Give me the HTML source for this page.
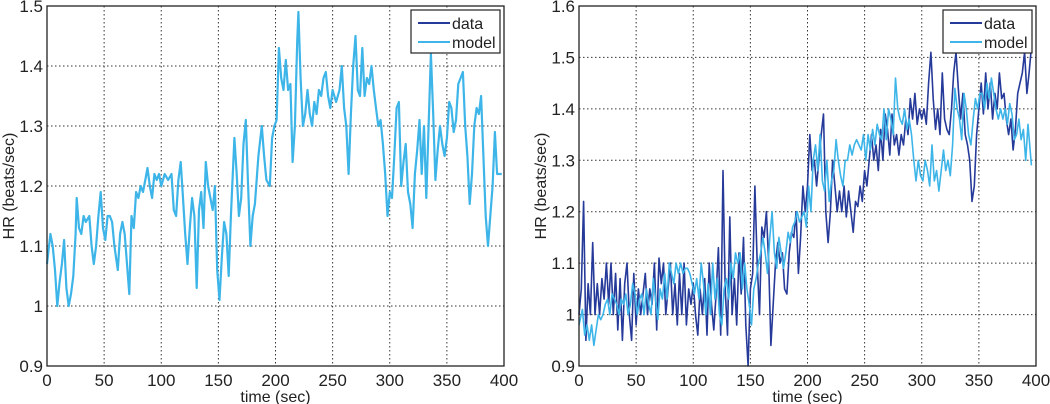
<!DOCTYPE html>
<html><head><meta charset="utf-8"><style>
body{margin:0;background:#fff;width:1050px;height:404px;overflow:hidden}
svg{display:block}
text{font-family:"Liberation Sans",sans-serif;fill:#222}
</style></head><body>
<svg id="chart" width="1050" height="404"></svg>
<script>
const leftModelT=[0,3,5,7,9,11,13,15,17,19,21,23,25,26,28,30,32,34,37,39,41,43,45,47,49,51,53,55,57,59,62,64,66,68,70,72,74,76,78,80,82,84,86,88,90,92,94,96,98,100,103,106,109,111,113,115,117,119,121,123,125,127,129,131,133,135,137,139,141,143,145,147,149,151,153,155,157,159,161,164,166,168,170,172,174,176,178,180,182,185,188,190,192,195,197,199,201,203,205,207,209,211,213,215,217,219,220,222,224,226,228,230,232,234,236,238,240,242,244,246,248,250,253,256,258,260,262,264,266,268,270,272,274,276,278,280,282,284,286,288,290,292,294,296,298,300,302,304,306,308,310,312,314,316,318,320,322,324,326,328,330,332,334,336,338,340,342,344,346,348,350,352,354,356,358,360,362,364,366,368,370,372,374,376,378,380,382,384,386,388,390,392,394,398];
const leftModelV=[1.07,1.12,1.10,1.06,1.0,1.04,1.07,1.11,1.03,1.0,1.02,1.05,1.12,1.18,1.13,1.12,1.15,1.14,1.15,1.10,1.07,1.1,1.15,1.19,1.13,1.11,1.15,1.15,1.14,1.1,1.06,1.12,1.14,1.12,1.07,1.02,1.15,1.13,1.19,1.18,1.2,1.19,1.21,1.23,1.2,1.18,1.22,1.21,1.22,1.2,1.22,1.21,1.22,1.16,1.15,1.21,1.24,1.18,1.12,1.07,1.13,1.18,1.15,1.03,1.16,1.19,1.13,1.24,1.2,1.18,1.16,1.2,1.06,1.01,1.08,1.14,1.12,1.05,1.15,1.28,1.22,1.15,1.18,1.27,1.31,1.2,1.1,1.15,1.17,1.25,1.3,1.25,1.21,1.2,1.28,1.3,1.31,1.43,1.38,1.36,1.41,1.36,1.37,1.24,1.3,1.44,1.49,1.38,1.3,1.32,1.36,1.32,1.3,1.34,1.32,1.36,1.35,1.38,1.39,1.35,1.33,1.36,1.34,1.36,1.4,1.33,1.3,1.22,1.32,1.4,1.45,1.36,1.35,1.43,1.35,1.38,1.37,1.4,1.36,1.33,1.3,1.31,1.27,1.22,1.15,1.19,1.18,1.25,1.33,1.34,1.2,1.24,1.27,1.19,1.17,1.13,1.22,1.26,1.31,1.22,1.3,1.18,1.3,1.42,1.32,1.21,1.26,1.3,1.27,1.25,1.28,1.34,1.33,1.29,1.31,1.37,1.38,1.39,1.3,1.25,1.17,1.22,1.3,1.33,1.32,1.35,1.25,1.15,1.1,1.15,1.2,1.29,1.22,1.22];
const rightDataT=[0,2,4,6,8,10,12,14,16,18,20,22,24,26,28,30,32,34,36,38,40,42,44,46,48,50,52,54,56,58,60,62,64,66,68,70,72,74,76,78,80,82,84,86,88,90,92,94,96,98,100,102,104,106,108,110,112,114,116,118,120,122,124,126,128,130,132,134,136,138,140,142,144,146,148,150,152,154,156,158,160,162,164,166,168,170,172,174,176,178,180,182,184,186,188,190,192,194,196,198,200,202,204,206,208,210,212,214,216,218,220,222,224,226,228,230,232,234,236,238,240,242,244,246,248,250,252,254,256,258,260,262,264,266,268,270,272,274,276,278,280,282,284,286,288,290,292,294,296,298,300,302,304,306,308,310,312,314,316,318,320,322,324,326,328,330,332,334,336,338,340,342,344,346,348,350,352,354,356,358,360,362,364,366,368,370,372,374,376,378,380,382,384,386,388,390,392,394,396];
const rightDataV=[1.0,1.05,1.22,0.95,1.06,1.0,1.14,1.0,1.06,1.0,1.07,1.03,1.1,1.02,1.1,1.0,1.08,0.97,1.07,0.95,1.06,1.1,1.0,0.95,1.08,0.98,1.05,1.0,1.04,1.08,1.0,1.05,1.02,1.1,0.97,1.11,1.06,1.1,1.0,1.05,1.1,1.0,1.06,0.98,1.08,1.0,1.1,0.98,1.05,1.02,1.06,1.0,0.96,1.05,1.0,1.07,0.96,1.1,1.02,0.97,1.04,1.13,0.96,1.28,1.05,0.96,1.19,1.0,1.07,0.98,1.12,1.04,1.15,0.98,0.9,1.05,1.08,1.25,1.1,1.0,1.17,1.15,1.2,1.1,0.94,1.02,1.1,1.14,1.1,1.12,1.05,1.04,1.12,1.16,1.15,1.2,1.08,1.15,1.25,1.2,1.25,1.35,1.28,1.3,1.25,1.3,1.35,1.39,1.2,1.14,1.2,1.3,1.25,1.2,1.24,1.2,1.25,1.19,1.24,1.2,1.16,1.22,1.21,1.25,1.22,1.28,1.25,1.3,1.35,1.3,1.33,1.28,1.36,1.3,1.39,1.36,1.31,1.39,1.33,1.35,1.31,1.35,1.33,1.38,1.35,1.42,1.38,1.43,1.37,1.4,1.38,1.4,1.37,1.45,1.51,1.42,1.36,1.4,1.35,1.47,1.38,1.36,1.35,1.4,1.47,1.51,1.44,1.38,1.43,1.35,1.33,1.3,1.22,1.25,1.35,1.4,1.45,1.39,1.47,1.4,1.45,1.38,1.43,1.4,1.47,1.42,1.43,1.38,1.35,1.38,1.32,1.36,1.43,1.45,1.47,1.51,1.43,1.47,1.52];
const rightModelT=[0,3,5,7,9,11,13,15,17,19,21,23,25,27,29,31,33,35,37,39,41,43,45,47,49,51,53,55,57,59,61,63,65,67,69,71,73,75,77,79,81,83,85,87,89,91,93,95,97,99,101,103,105,107,109,111,113,115,117,119,121,123,125,127,129,131,133,135,137,139,141,143,145,147,149,151,153,155,157,159,161,163,165,167,169,171,173,175,177,179,181,183,185,187,189,191,193,195,197,199,201,203,205,207,209,211,213,215,217,219,221,223,225,227,229,231,233,235,237,239,241,243,245,247,249,251,253,255,257,259,261,263,265,267,269,271,273,275,277,279,281,283,285,287,289,291,293,295,297,299,301,303,305,307,309,311,313,315,317,319,321,323,325,327,329,331,333,335,337,339,341,343,345,347,349,351,353,355,357,359,361,363,365,367,369,371,373,375,377,379,381,383,385,387,389,391,393,396];
const rightModelV=[0.98,1.01,0.96,0.98,0.95,0.98,0.94,0.97,1.0,0.99,1.0,1.02,1.03,1.0,1.04,1.03,1.02,1.0,1.03,1.02,1.04,1.0,1.02,1.06,1.04,1.0,1.03,1.04,1.0,1.05,1.02,1.0,1.07,1.03,0.99,1.05,1.03,1.08,1.03,1.1,1.08,1.06,1.1,1.08,1.1,1.08,1.09,1.09,1.08,1.06,1.04,1.07,1.03,1.1,1.06,1.0,1.06,1.0,1.1,1.03,1.07,1.0,0.98,1.05,1.07,1.03,1.1,1.07,1.12,1.1,1.12,1.05,1.1,1.05,1.02,0.98,1.05,1.07,1.1,1.12,1.15,1.12,1.08,1.15,1.2,1.12,1.09,1.15,1.12,1.09,1.12,1.16,1.14,1.17,1.18,1.2,1.18,1.19,1.2,1.17,1.25,1.2,1.3,1.33,1.28,1.35,1.26,1.24,1.3,1.22,1.26,1.28,1.34,1.3,1.27,1.25,1.3,1.3,1.33,1.31,1.33,1.34,1.33,1.32,1.35,1.3,1.35,1.32,1.36,1.33,1.37,1.35,1.34,1.4,1.34,1.4,1.38,1.35,1.46,1.4,1.38,1.37,1.4,1.36,1.38,1.35,1.3,1.26,1.3,1.27,1.26,1.3,1.28,1.25,1.33,1.26,1.28,1.24,1.28,1.32,1.28,1.3,1.27,1.33,1.44,1.4,1.38,1.34,1.43,1.4,1.35,1.33,1.38,1.42,1.4,1.43,1.43,1.4,1.45,1.42,1.46,1.43,1.4,1.38,1.4,1.38,1.4,1.37,1.41,1.39,1.34,1.35,1.38,1.34,1.36,1.3,1.37,1.29];
const xTicks=[0,50,100,150,200,250,300,350,400];
const leftYTicks=[0.9,1,1.1,1.2,1.3,1.4,1.5];
const rightYTicks=[0.9,1,1.1,1.2,1.3,1.4,1.5,1.6];

const NS="http://www.w3.org/2000/svg";
const svg=document.getElementById('chart');
function mk(tag,attrs,parent){const e=document.createElementNS(NS,tag);for(const k in attrs)e.setAttribute(k,attrs[k]);(parent||svg).appendChild(e);return e;}
const DARK="#263a9a",LIGHT="#3db5e8";

function panel(name,x0,x1,y0,y1,ymin,ymax,yTicks,series,lx){
  const g=mk('g',{});
  
  
  const sx=t=>x0+(t-0)/400*(x1-x0);
  const sy=v=>y1-(v-ymin)/(ymax-ymin)*(y1-y0);
  mk('rect',{x:x0,y:y0,width:x1-x0,height:y1-y0,fill:'#fff'},g);
  xTicks.forEach(t=>{
    const x=sx(t);
    if(t>0&&t<400){const l=mk('line',{x1:x,x2:x,y1:y0,y2:y1,stroke:'#333','stroke-width':1,'stroke-dasharray':'1.5,2.5'},g);
      }
    const tx=mk('text',{x:x,y:y1+20,'text-anchor':'middle','font-size':17},g);tx.textContent=t;
    
  });
  yTicks.forEach(v=>{
    const y=sy(v);
    if(v>ymin+1e-9&&v<ymax-1e-9){const l=mk('line',{x1:x0,x2:x1,y1:y,y2:y,stroke:'#333','stroke-width':1,'stroke-dasharray':'1.5,2.5'},g);
      }
    const tx=mk('text',{x:x0-4,y:y+6,'text-anchor':'end','font-size':17},g);tx.textContent=String(v);
    
  });
  series.forEach(s=>{
    const d=s.t.map((t,i)=>(i?'L':'M')+sx(t).toFixed(1)+','+sy(s.v[i]).toFixed(1)).join('');
    const p=mk('path',{d:d,fill:'none',stroke:s.c,'stroke-width':s.w,'stroke-linejoin':'round'},g);
    
  });
  const ax=mk('rect',{x:x0,y:y0,width:x1-x0,height:y1-y0,fill:'none',stroke:'#222','stroke-width':1.3},g);
  
  const xl=mk('text',{x:(x0+x1)/2,y:402,'text-anchor':'middle','font-size':16},g);xl.textContent='time (sec)';
  
  const yl=mk('text',{x:0,y:0,'text-anchor':'middle','font-size':16,transform:`translate(${x0-33},${(y0+y1)/2}) rotate(-90)`},g);yl.textContent='HR (beats/sec)';
  
  const lg=mk('g',{},g);
  
  mk('rect',{x:lx,y:10,width:89,height:43,fill:'#fff',stroke:'#222','stroke-width':1.2},lg);
  [['data',DARK,23],['model',LIGHT,42]].forEach(([n,c,y])=>{
    const e=mk('g',{},lg);
    
    mk('line',{x1:lx+7,x2:lx+39,y1:y,y2:y,stroke:c,'stroke-width':2},e);
    const t=mk('text',{x:lx+41,y:y+6,'font-size':16},e);t.textContent=n;
  });
}
panel('left-chart',47,504,6,366,0.9,1.5,leftYTicks,[{t:leftModelT,v:leftModelV,c:LIGHT,w:2.2,n:'left-model-line'}],411);
panel('right-chart',579,1036,6,366,0.9,1.6,rightYTicks,[{t:rightDataT,v:rightDataV,c:DARK,w:1.6,n:'right-data-line'},{t:rightModelT,v:rightModelV,c:LIGHT,w:1.6,n:'right-model-line'}],943);
</script>
</body></html>
